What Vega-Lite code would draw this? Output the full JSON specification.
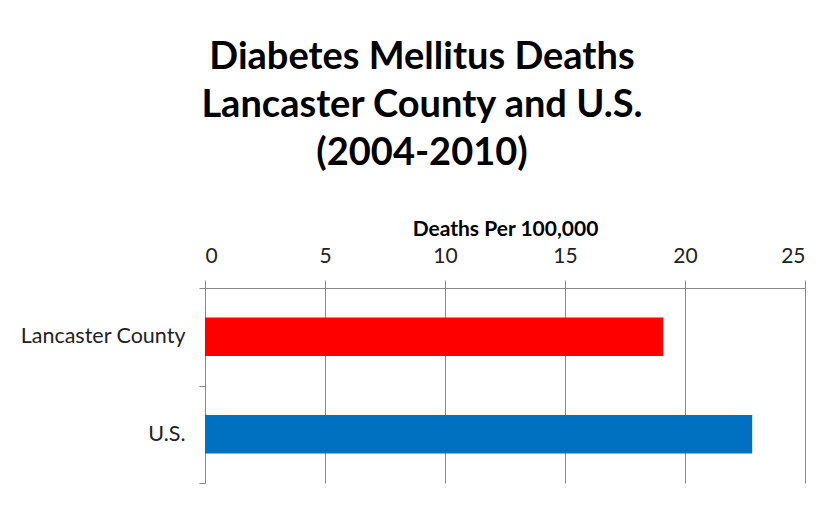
{
  "$schema": "https://vega.github.io/schema/vega-lite/v6.json",
  "width": 600,
  "height": 195,
  "autosize": {"type": "none"},
  "padding": {"left": 205, "top": 288, "right": 27, "bottom": 22},
  "background": "white",
  "title": {
    "text": ["Diabetes Mellitus Deaths", "Lancaster County and U.S.", "(2004-2010)"],
    "font": "Lato",
    "fontSize": 38,
    "fontWeight": "bold",
    "color": "#000000",
    "lineHeight": 48,
    "anchor": "middle",
    "dx": -83,
    "offset": 45
  },
  "data": {
    "values": [
      {"area": "Lancaster County", "rate": 19.1},
      {"area": "U.S.", "rate": 22.8}
    ]
  },
  "mark": {"type": "bar", "height": {"band": 0.395}},
  "encoding": {
    "y": {
      "field": "area",
      "type": "nominal",
      "sort": null,
      "scale": {"paddingInner": 0, "paddingOuter": 0},
      "axis": {
        "title": null,
        "tickBand": "extent",
        "domainColor": "#888888",
        "tickColor": "#888888",
        "tickSize": 6,
        "labelPadding": 14,
        "labelFont": "Lato",
        "labelFontSize": 21.5,
        "labelColor": "#222222"
      }
    },
    "x": {
      "field": "rate",
      "type": "quantitative",
      "scale": {"domain": [0, 25], "nice": false},
      "axis": {
        "orient": "top",
        "title": "Deaths Per 100,000",
        "titleFont": "Lato",
        "titleFontSize": 21,
        "titleFontWeight": "bold",
        "titleColor": "#000000",
        "titlePadding": 6,
        "values": [0, 5, 10, 15, 20, 25],
        "grid": true,
        "gridColor": "#888888",
        "gridOpacity": 1,
        "domainColor": "#888888",
        "tickColor": "#888888",
        "tickSize": 8,
        "labelPadding": 14,
        "labelFont": "Lato",
        "labelFontSize": 21,
        "labelColor": "#222222"
      }
    },
    "color": {
      "field": "area",
      "type": "nominal",
      "scale": {"domain": ["Lancaster County", "U.S."], "range": ["#ff0000", "#0070c0"]},
      "legend": null
    }
  },
  "config": {"view": {"stroke": null}}
}
